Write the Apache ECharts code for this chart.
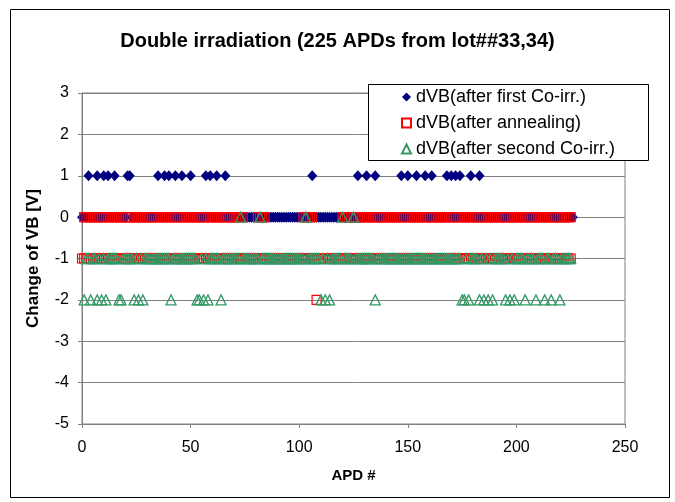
<!DOCTYPE html>
<html>
<head>
<meta charset="utf-8">
<script src="https://cdn.jsdelivr.net/npm/echarts@6/dist/echarts.min.js"></script>
<style>
  html, body { margin: 0; padding: 0; background: #fff; }
  #chart { width: 675px; height: 502px; }
</style>
</head>
<body>
<div id="chart"></div>
<script>
const firstAt1 = [3, 7, 10, 12, 15, 21, 22, 35, 38, 40, 43, 46, 50, 57, 59, 62, 66, 106,
  127, 131, 135, 147, 150, 154, 158, 161, 168, 170, 172, 174, 179, 183]
const firstRange = [0, 226]
const annealZeroRuns = [[1, 74], [81, 84], [102, 106], [120, 225]]
const annealMinus1Range = [0, 225]
const annealAtMinus2 = [108]
const secondRange = [1, 225]
const secondAt0 = [73, 82, 103, 120, 125]
const secondAtMinus2 = [1, 4, 7, 9, 11, 17, 18, 24, 26, 28, 41, 53, 54, 56, 58, 64, 110, 112, 114,
  135, 175, 176, 178, 183, 185, 187, 189, 195, 197, 199, 204, 209, 213, 216, 220]
const yTicks = [-5, -4, -3, -2, -1, 0, 1, 2, 3]
const xTicks = [0, 50, 100, 150, 200, 250]

const firstData = []
for (let x = firstRange[0]; x <= firstRange[1]; x++) {
  firstData.push([x, firstAt1.includes(x) ? 1 : 0])
}
const annealData = []
annealZeroRuns.forEach(function (r) {
  for (let x = r[0]; x <= r[1]; x++) annealData.push([x, 0])
})
for (let x = annealMinus1Range[0]; x <= annealMinus1Range[1]; x++) {
  annealData.push([x, annealAtMinus2.includes(x) ? -2 : -1])
}
const secondData = []
for (let x = secondRange[0]; x <= secondRange[1]; x++) {
  let y = -1
  if (secondAt0.includes(x)) y = 0
  if (secondAtMinus2.includes(x)) y = -2
  secondData.push([x, y])
}

const font = 'Liberation Sans'
const myChart = echarts.init(document.getElementById('chart'))
const option = {
  animation: false,
  backgroundColor: '#fff',
  title: {
    text: 'Double irradiation (225 APDs from lot##33,34)',
    left: 'center',
    top: 26,
    textStyle: { fontFamily: font, fontSize: 20, fontWeight: 'bold', color: '#000' }
  },
  grid: { left: 82, right: 50, top: 93, bottom: 78, show: true, borderColor: '#808080', borderWidth: 1 },
  legend: {
    orient: 'vertical',
    left: 396,
    top: 83,
    itemGap: 8,
    itemWidth: 9,
    itemHeight: 9,
    textStyle: { fontFamily: font, fontSize: 18, color: '#000' },
    data: ['dVB(after first Co-irr.)', 'dVB(after annealing)', 'dVB(after second Co-irr.)']
  },
  xAxis: {
    type: 'value',
    min: xTicks[0],
    max: xTicks[xTicks.length - 1],
    interval: 50,
    name: 'APD #',
    nameLocation: 'middle',
    nameGap: 44,
    nameTextStyle: { fontFamily: font, fontSize: 15, fontWeight: 'bold', color: '#000' },
    axisLine: { onZero: false, lineStyle: { color: '#808080' } },
    axisTick: { show: true, length: 4, lineStyle: { color: '#808080' } },
    axisLabel: { fontFamily: font, fontSize: 16, color: '#000', margin: 16 },
    splitLine: { show: false }
  },
  yAxis: {
    type: 'value',
    min: yTicks[0],
    max: yTicks[yTicks.length - 1],
    interval: 1,
    name: 'Change of VB [V]',
    nameLocation: 'middle',
    nameGap: 40,
    nameTextStyle: { fontFamily: font, fontSize: 17, fontWeight: 'bold', color: '#000' },
    axisLine: { show: true, lineStyle: { color: '#808080' } },
    axisTick: { show: true, length: 4, lineStyle: { color: '#808080' } },
    axisLabel: { fontFamily: font, fontSize: 16, color: '#000', margin: 13 },
    splitLine: { show: true, lineStyle: { color: '#808080', width: 1 } }
  },
  series: [
    {
      name: 'dVB(after first Co-irr.)',
      type: 'scatter',
      symbol: 'diamond',
      symbolSize: [10, 11],
      itemStyle: { color: '#000080', opacity: 1 },
      data: firstData
    },
    {
      name: 'dVB(after annealing)',
      type: 'scatter',
      symbol: 'rect',
      symbolSize: 9,
      itemStyle: { color: 'rgba(255,255,255,0)', borderColor: '#ff0000', borderWidth: 1.2, opacity: 1 },
      data: annealData
    },
    {
      name: 'dVB(after second Co-irr.)',
      type: 'scatter',
      symbol: 'triangle',
      symbolSize: 10,
      itemStyle: { color: 'rgba(255,255,255,0)', borderColor: '#339966', borderWidth: 1.3, opacity: 1 },
      data: secondData
    }
  ],
  graphic: [
    {
      type: 'rect',
      shape: { x: 10.5, y: 9.5, width: 659, height: 488 },
      style: { fill: 'none', stroke: '#000', lineWidth: 1 },
      silent: true
    },
    {
      type: 'rect',
      shape: { x: 368.5, y: 84.5, width: 280, height: 76 },
      style: { fill: '#fff', stroke: '#000', lineWidth: 1 },
      z: 1,
      silent: true
    }
  ]
}
myChart.setOption(option)
</script>
</body>
</html>
